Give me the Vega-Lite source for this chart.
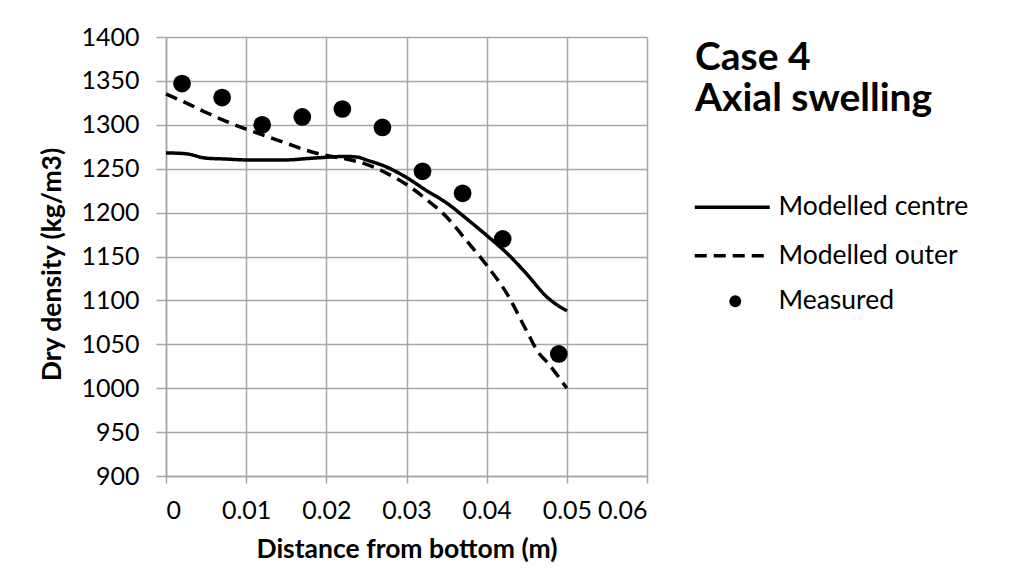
{
  "$schema": "https://vega.github.io/schema/vega-lite/v6.json",
  "autosize": "none",
  "width": 481,
  "height": 439,
  "padding": {"left": 166, "top": 37, "right": 385, "bottom": 103},
  "background": "white",
  "config": {
    "view": {"stroke": null},
    "font": "Lato",
    "axis": {
      "gridColor": "#a6a6a6", "gridWidth": 1.5,
      "domainColor": "#a6a6a6", "domainWidth": 1.5,
      "tickColor": "#a6a6a6", "tickWidth": 1.5,
      "labelFont": "Lato", "labelFontSize": 25, "labelColor": "#000000",
      "titleFont": "Lato", "titleFontSize": 26.5, "titleFontWeight": "bold", "titleColor": "#000000"
    }
  },
  "title": {
    "text": ["Case 4", "Axial swelling"],
    "anchor": "start", "frame": "group", "orient": "top",
    "offset": 0, "dx": 529, "dy": 125,
    "baseline": "alphabetic",
    "font": "Lato", "fontSize": 39, "fontWeight": "bold", "color": "#000000",
    "lineHeight": 41
  },
  "datasets": {
    "lines": [
      {"x": 0, "y": 1268, "line": "Modelled centre"},
      {"x": 0.0025, "y": 1267, "line": "Modelled centre"},
      {"x": 0.005, "y": 1262, "line": "Modelled centre"},
      {"x": 0.0075, "y": 1261, "line": "Modelled centre"},
      {"x": 0.01, "y": 1260, "line": "Modelled centre"},
      {"x": 0.0125, "y": 1260, "line": "Modelled centre"},
      {"x": 0.015, "y": 1260, "line": "Modelled centre"},
      {"x": 0.0175, "y": 1261.5, "line": "Modelled centre"},
      {"x": 0.02, "y": 1263, "line": "Modelled centre"},
      {"x": 0.0225, "y": 1264, "line": "Modelled centre"},
      {"x": 0.024, "y": 1263, "line": "Modelled centre"},
      {"x": 0.025, "y": 1260, "line": "Modelled centre"},
      {"x": 0.0275, "y": 1252, "line": "Modelled centre"},
      {"x": 0.03, "y": 1240, "line": "Modelled centre"},
      {"x": 0.0325, "y": 1225, "line": "Modelled centre"},
      {"x": 0.035, "y": 1211, "line": "Modelled centre"},
      {"x": 0.0375, "y": 1193, "line": "Modelled centre"},
      {"x": 0.04, "y": 1174, "line": "Modelled centre"},
      {"x": 0.0425, "y": 1154, "line": "Modelled centre"},
      {"x": 0.045, "y": 1130, "line": "Modelled centre"},
      {"x": 0.0475, "y": 1104, "line": "Modelled centre"},
      {"x": 0.05, "y": 1088, "line": "Modelled centre"},
      {"x": 0, "y": 1335, "line": "Modelled outer"},
      {"x": 0.0025, "y": 1325, "line": "Modelled outer"},
      {"x": 0.005, "y": 1314, "line": "Modelled outer"},
      {"x": 0.0075, "y": 1304, "line": "Modelled outer"},
      {"x": 0.01, "y": 1295, "line": "Modelled outer"},
      {"x": 0.0125, "y": 1287, "line": "Modelled outer"},
      {"x": 0.015, "y": 1279, "line": "Modelled outer"},
      {"x": 0.0175, "y": 1271, "line": "Modelled outer"},
      {"x": 0.02, "y": 1265, "line": "Modelled outer"},
      {"x": 0.0225, "y": 1261, "line": "Modelled outer"},
      {"x": 0.025, "y": 1255, "line": "Modelled outer"},
      {"x": 0.0275, "y": 1245, "line": "Modelled outer"},
      {"x": 0.03, "y": 1232, "line": "Modelled outer"},
      {"x": 0.0325, "y": 1215, "line": "Modelled outer"},
      {"x": 0.035, "y": 1195, "line": "Modelled outer"},
      {"x": 0.0375, "y": 1168, "line": "Modelled outer"},
      {"x": 0.04, "y": 1140, "line": "Modelled outer"},
      {"x": 0.0425, "y": 1108, "line": "Modelled outer"},
      {"x": 0.045, "y": 1065, "line": "Modelled outer"},
      {"x": 0.0465, "y": 1040, "line": "Modelled outer"},
      {"x": 0.0475, "y": 1030, "line": "Modelled outer"},
      {"x": 0.05, "y": 1000, "line": "Modelled outer"}
    ],
    "points": [
      {"x": 0.002, "y": 1347, "kind": "Measured"},
      {"x": 0.007, "y": 1331, "kind": "Measured"},
      {"x": 0.012, "y": 1300, "kind": "Measured"},
      {"x": 0.017, "y": 1309, "kind": "Measured"},
      {"x": 0.022, "y": 1318, "kind": "Measured"},
      {"x": 0.027, "y": 1297, "kind": "Measured"},
      {"x": 0.032, "y": 1247, "kind": "Measured"},
      {"x": 0.037, "y": 1222, "kind": "Measured"},
      {"x": 0.042, "y": 1170, "kind": "Measured"},
      {"x": 0.049, "y": 1039, "kind": "Measured"}
    ]
  },
  "layer": [
    {
      "data": {"name": "lines"},
      "mark": {"type": "line", "color": "#000000", "strokeWidth": 3.5, "interpolate": "monotone"},
      "encoding": {
        "x": {
          "field": "x", "type": "quantitative",
          "scale": {"domain": [0, 0.06], "nice": false, "zero": false},
          "axis": {
            "title": "Distance from bottom (m)",
            "values": [0, 0.01, 0.02, 0.03, 0.04, 0.05, 0.06],
            "format": "~g",
            "tickSize": 7, "labelPadding": 35, "labelBaseline": "alphabetic",
            "titleBaseline": "alphabetic", "titleY": 81
          }
        },
        "y": {
          "field": "y", "type": "quantitative",
          "scale": {"domain": [900, 1400], "nice": false, "zero": false},
          "axis": {
            "title": "Dry density (kg/m3)",
            "values": [900, 950, 1000, 1050, 1100, 1150, 1200, 1250, 1300, 1350, 1400],
            "format": "d",
            "tickSize": 10, "labelPadding": 17,
            "titleBaseline": "alphabetic", "titleX": -106, "titleY": 227, "titleAngle": -90
          }
        },
        "strokeDash": {
          "field": "line", "type": "nominal",
          "scale": {"domain": ["Modelled centre", "Modelled outer"], "range": [[1, 0], [12, 7]]},
          "legend": {
            "title": null, "orient": "none", "legendX": 553, "legendY": 157,
            "symbolType": "M-5,0H5", "symbolSize": 225, "symbolStrokeWidth": 3.5,
            "symbolStrokeColor": "#000000", "labelOffset": 33,
            "labelFont": "Lato", "labelFontSize": 26.5, "labelColor": "#000000", "labelLimit": 0,
            "rowPadding": 21.5, "padding": 0
          }
        }
      }
    },
    {
      "data": {"name": "points"},
      "mark": {"type": "point", "filled": true, "color": "#000000", "size": 314, "opacity": 1},
      "encoding": {
        "x": {"field": "x", "type": "quantitative"},
        "y": {"field": "y", "type": "quantitative"},
        "shape": {
          "field": "kind", "type": "nominal",
          "scale": {"domain": ["Measured"], "range": ["circle"]},
          "legend": {
            "title": null, "orient": "none", "legendX": 556, "legendY": 251,
            "symbolSize": 140, "symbolFillColor": "#000000", "symbolStrokeWidth": 0, "symbolOpacity": 1,
            "labelOffset": 30,
            "labelFont": "Lato", "labelFontSize": 26.5, "labelColor": "#000000", "labelLimit": 0,
            "padding": 0
          }
        }
      }
    }
  ]
}
